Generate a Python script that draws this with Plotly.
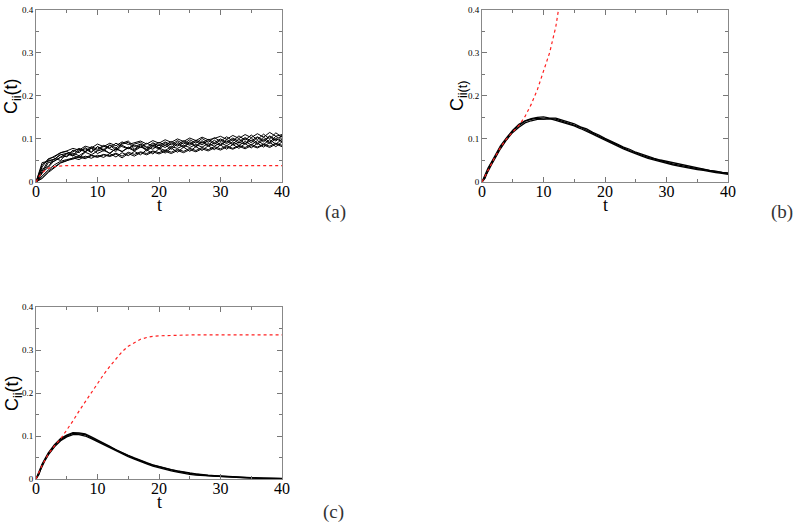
import plotly.graph_objects as go

# %%
# panel (a): noisy realizations, sampled at t = 0, 1, ..., 40
t_a = list(range(0, 41))
runs_a = [
    [0, .040, .052, .060, .068, .072, .078, .074, .083, .079, .088, .082, .090, .084, .093, .087, .091, .095, .088, .096, .090,
     .098, .092, .100, .094, .102, .096, .104, .098, .101, .106, .099, .108, .101, .110, .103, .112, .104, .115, .106, .110],
    [0, .010, .025, .036, .045, .050, .053, .058, .054, .061, .057, .063, .059, .065, .056, .066, .060, .068, .063, .070, .065,
     .071, .066, .073, .068, .075, .070, .077, .072, .079, .074, .081, .076, .083, .077, .084, .079, .086, .080, .088, .082],
    [0, .030, .036, .055, .050, .066, .060, .072, .077, .068, .082, .075, .086, .079, .090, .095, .082, .088, .080, .091, .084,
     .093, .086, .096, .088, .098, .090, .101, .092, .103, .094, .105, .095, .107, .097, .109, .098, .111, .100, .114, .104],
    [0, .020, .045, .048, .058, .066, .062, .056, .069, .063, .072, .076, .066, .078, .070, .081, .074, .084, .072, .082, .077,
     .086, .076, .089, .080, .091, .081, .093, .083, .090, .085, .095, .086, .092, .088, .097, .087, .099, .089, .101, .093],
    [0, .015, .028, .040, .048, .052, .055, .060, .057, .062, .059, .064, .061, .067, .060, .069, .064, .070, .066, .072, .068,
     .074, .069, .076, .071, .078, .073, .080, .075, .082, .077, .084, .078, .085, .080, .087, .081, .088, .083, .090, .085],
    [0, .025, .050, .052, .065, .058, .074, .068, .080, .070, .082, .072, .085, .074, .088, .092, .076, .087, .074, .089, .079,
     .091, .080, .093, .082, .094, .083, .096, .085, .097, .086, .099, .088, .100, .089, .102, .090, .104, .092, .106, .094],
    [0, .008, .022, .034, .044, .049, .056, .052, .060, .055, .062, .057, .066, .058, .068, .061, .071, .063, .075, .065, .077,
     .067, .079, .069, .081, .071, .082, .073, .084, .075, .086, .076, .087, .078, .089, .079, .090, .081, .092, .082, .093],
    [0, .035, .054, .058, .068, .071, .062, .076, .070, .079, .073, .083, .077, .071, .085, .078, .088, .092, .081, .076, .087,
     .080, .090, .083, .092, .085, .094, .086, .096, .088, .097, .089, .099, .090, .101, .091, .103, .093, .105, .095, .107],
    [0, .022, .034, .050, .057, .060, .067, .061, .070, .078, .066, .073, .067, .077, .071, .079, .072, .081, .076, .085, .079,
     .073, .082, .078, .085, .080, .087, .081, .089, .083, .091, .084, .093, .085, .094, .086, .096, .087, .098, .088, .099],
    [0, .045, .048, .053, .063, .067, .070, .078, .071, .082, .076, .085, .079, .090, .082, .077, .085, .080, .090, .083, .092,
     .085, .094, .086, .096, .088, .097, .090, .099, .091, .100, .092, .102, .094, .103, .095, .105, .096, .107, .098, .108],
]
t_red_a = [0, 0.5, 1, 1.5, 2, 3, 4, 5, 40]
red_a = [0, .013, .022, .028, .032, .036, .037, .038, .038]

# %%
# panels (b) and (c): tight bundles
t_bc = [0, 0.5, 1, 1.5, 2] + list(range(3, 41))
runs_b = [
    [0, .019, .033, .045, .059, .084, .103, .120, .134, .142, .147, .150, .151, .148, .148, .144, .139, .135, .128, .123, .115,
     .109, .101, .095, .088, .081, .076, .069, .064, .059, .055, .051, .048, .044, .041, .038, .035, .032, .030, .027, .025, .022, .021],
    [0, .011, .025, .039, .052, .077, .098, .115, .127, .137, .142, .145, .146, .147, .143, .139, .135, .130, .124, .118, .111,
     .104, .097, .090, .084, .077, .071, .065, .060, .055, .051, .047, .044, .040, .037, .034, .032, .029, .027, .024, .022, .020, .018],
    [0, .009, .029, .044, .054, .081, .099, .118, .131, .141, .145, .148, .146, .147, .146, .141, .137, .132, .127, .120, .113,
     .106, .099, .092, .086, .079, .073, .067, .062, .057, .053, .049, .046, .042, .039, .036, .034, .031, .029, .026, .024, .022, .020],
]
t_red_b = [0, 1, 2, 3, 4, 5, 6, 7, 8, 9, 10, 11, 12, 12.5, 13]
red_b = [0, .028, .055, .080, .100, .116, .131, .152, .180, .214, .255, .300, .360, .400, .450]

runs_c = [
    [0, .019, .035, .048, .061, .080, .094, .102, .108, .107, .105, .098, .091, .083, .076, .068, .061, .055, .049, .043, .038,
     .033, .029, .025, .022, .019, .016, .014, .012, .010, .009, .008, .007, .006, .005, .004, .0035, .003, .0025, .002, .0017, .0014, .0012],
    [0, .013, .029, .044, .056, .075, .089, .098, .103, .103, .100, .094, .087, .079, .072, .065, .058, .052, .046, .040, .035,
     .030, .026, .022, .019, .016, .013, .011, .009, .008, .007, .006, .005, .004, .0035, .003, .0025, .002, .0017, .0014, .0012, .001, .0008],
    [0, .011, .033, .046, .058, .077, .091, .100, .106, .105, .103, .096, .089, .081, .074, .067, .060, .054, .048, .042, .037,
     .032, .028, .024, .021, .018, .015, .013, .011, .009, .008, .007, .006, .005, .004, .0035, .003, .0025, .002, .0017, .0014, .0012, .001],
]
t_red_c = [0, 1, 2, 3, 4, 5, 6, 7, 8, 9, 10, 11, 12, 13, 14, 15, 16, 17, 18, 19, 20, 22, 25, 30, 40]
red_c = [0, .032, .058, .077, .093, .113, .135, .158, .180, .202, .223, .243, .262, .280, .296, .309, .318, .325, .329,
         .332, .333, .334, .335, .335, .335]

fig = go.Figure()


def add_panel(n, t, runs, t_red, red, lw):
    xa, ya = ("x", "y") if n == 1 else (f"x{n}", f"y{n}")
    for r in runs:
        fig.add_trace(go.Scatter(x=t, y=r, mode="lines", xaxis=xa, yaxis=ya,
                                 line={"color": "black", "width": lw}, showlegend=False))
    fig.add_trace(go.Scatter(x=t_red, y=red, mode="lines", xaxis=xa, yaxis=ya,
                             line={"color": "#ff2020", "width": 1.2, "dash": "dot"}, showlegend=False))


add_panel(1, t_a, runs_a, t_red_a, red_a, 1)
add_panel(2, t_bc, runs_b, t_red_b, red_b, 1.3)
add_panel(3, t_bc, runs_c, t_red_c, red_c, 1.3)

W, H = 800, 529


def px_x(v):
    return v / W


def px_y(v):
    return 1 - v / H


xdom_left = [px_x(36), px_x(282)]
xdom_right = [px_x(482), px_x(728)]
ydom_top = [px_y(182), px_y(9.5)]
ydom_bot = [px_y(479), px_y(307)]

serif = "Liberation Serif, Times New Roman, serif"
common_x = dict(range=[0, 40], tickvals=[0, 10, 20, 30, 40], ticks="inside", ticklen=5, tickcolor="#777",
                minor=dict(dtick=5, ticks="inside", ticklen=3, tickcolor="#777"),
                showline=True, linecolor="#888", linewidth=1, mirror="ticks", showgrid=False, zeroline=False,
                automargin=False, ticklabelstandoff=-5, ticklabeloverflow="allow",
                tickfont=dict(family=serif, size=16, color="black"))
common_y = dict(range=[0, 0.4], tickvals=[0, 0.1, 0.2, 0.3, 0.4], ticktext=["0", "0.1", "0.2", "0.3", "0.4"],
                ticks="inside", ticklen=5, tickcolor="#777",
                minor=dict(dtick=0.05, ticks="inside", ticklen=3, tickcolor="#777"),
                showline=True, linecolor="#888", linewidth=1, mirror="ticks", showgrid=False, zeroline=False,
                automargin=False, ticklabeloverflow="allow",
                tickfont=dict(family=serif, size=9, color="black"))

fig.update_layout(
    template="none",
    width=W, height=H, margin=dict(l=0, r=0, t=0, b=0, autoexpand=False),
    paper_bgcolor="white", plot_bgcolor="white",
    xaxis=dict(domain=xdom_left, anchor="y", **common_x),
    yaxis=dict(domain=ydom_top, anchor="x", **common_y),
    xaxis2=dict(domain=xdom_right, anchor="y2", **common_x),
    yaxis2=dict(domain=ydom_top, anchor="x2", **common_y),
    xaxis3=dict(domain=xdom_left, anchor="y3", **common_x),
    yaxis3=dict(domain=ydom_bot, anchor="x3", **common_y),
)


def label(x, y, txt, size, family, color="black", angle=0):
    fig.add_annotation(x=px_x(x), y=px_y(y), xref="paper", yref="paper", text=txt, textangle=angle,
                       xanchor="center", yanchor="middle", showarrow=False,
                       font=dict(family=family, size=size, color=color))


# axis titles and panel labels
for x, y, txt in [(13, 96, "C<sub>ii</sub>(t)"), (459, 96, "C<sub>ii(t)</sub>"), (13, 393, "C<sub>ii</sub>(t)")]:
    label(x, y, txt, 18, "Liberation Sans", angle=-90)
for x, y in [(159, 205), (605, 205), (159, 502)]:
    label(x, y, "t", 18, serif)
for x, y, txt in [(335, 212, "(a)"), (782, 212, "(b)"), (333, 512, "(c)")]:
    label(x, y, txt, 19, serif, "#333")

# drop the default page margin so the figure sits at the window's corner
fig.write_html("out.html", config={"displayModeBar": False},
               post_script="document.body.style.margin='0';")
